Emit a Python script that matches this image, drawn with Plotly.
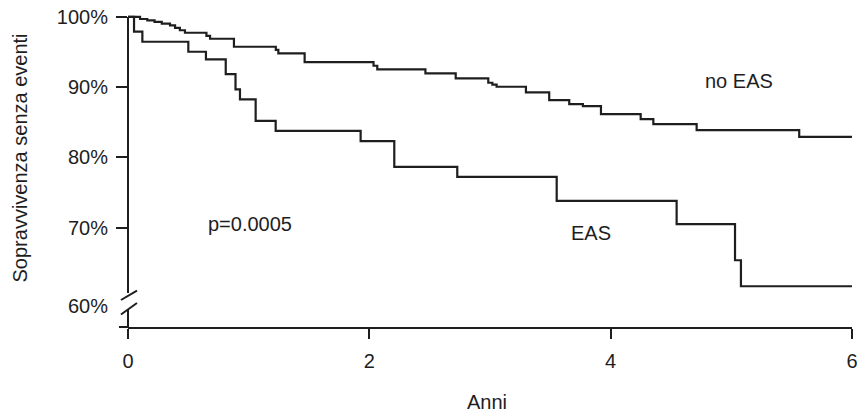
import plotly.graph_objects as go

# Kaplan-Meier curves (years, survival %)
years_no_eas = [0, 0.10, 0.16, 0.22, 0.28, 0.348, 0.39, 0.43, 0.472, 0.65, 0.68, 0.878,
                1.225, 1.246, 1.464, 2.035, 2.066, 2.465, 2.716, 2.986, 3.02, 3.055,
                3.298, 3.491, 3.657, 3.77, 3.92, 4.249, 4.354, 4.713, 5.563, 6.0]
surv_no_eas = [100, 99.7, 99.5, 99.3, 99.05, 98.8, 98.45, 98.1, 97.74, 97.3, 96.89, 95.75,
               95.3, 94.81, 93.57, 93.05, 92.53, 91.96, 91.25, 90.63, 90.35, 90.06,
               89.26, 88.16, 87.59, 87.31, 86.17, 85.46, 84.74, 83.89, 82.94, 82.94]

years_eas = [0, 0.050, 0.119, 0.500, 0.646, 0.810, 0.891, 0.928, 1.058, 1.224, 1.928,
             2.207, 2.729, 3.553, 4.547, 5.031, 5.080, 6.0]
surv_eas = [100, 97.89, 96.46, 95.04, 93.96, 91.86, 89.69, 88.26, 85.21, 83.79, 82.32,
            78.66, 77.24, 73.82, 70.51, 65.38, 61.68, 61.68]

x_ticks = [0, 2, 4, 6]
y_ticks = [70, 80, 90, 100]
y_ticktext = ["70%", "80%", "90%", "100%"]
y_break_label_pos = [58.83]
y_break_label = ["60%"]

INK = "#1e1e1e"
FONT = "Liberation Sans, Arial, sans-serif"
FS = 20
YR = [55.88, 100.98]

fig = go.Figure()
fig.add_trace(go.Scatter(x=years_no_eas, y=surv_no_eas, mode="lines", line_shape="hv",
                         line=dict(color=INK, width=2.2), name="no EAS", showlegend=False))
fig.add_trace(go.Scatter(x=years_eas, y=surv_eas, mode="lines", line_shape="hv",
                         line=dict(color=INK, width=2.2), name="EAS", showlegend=False))
fig.add_trace(go.Scatter(x=[], y=[], yaxis="y2", showlegend=False, hoverinfo="skip"))

fig.update_layout(
    width=857, height=414,
    margin=dict(l=128, r=5, t=10, b=87),
    paper_bgcolor="white", plot_bgcolor="white",
    font=dict(family=FONT, size=FS, color=INK),
    xaxis=dict(range=[0, 6.0005], tickvals=x_ticks, showline=True, linewidth=2, linecolor=INK,
               ticks="outside", ticklen=10, tickwidth=2, tickcolor=INK, automargin=False,
               ticklabeloverflow="allow",
               showgrid=False, zeroline=False, ticklabelstandoff=5),
    yaxis=dict(range=YR, tickvals=y_ticks, ticktext=y_ticktext, showline=False,
               ticks="outside", ticklen=11, tickwidth=2, tickcolor=INK, automargin=False,
               showgrid=False, zeroline=False, ticklabelstandoff=4),
    yaxis2=dict(range=YR, overlaying="y", side="left", anchor="x",
                tickvals=y_break_label_pos, ticktext=y_break_label, showline=False,
                ticks="outside", ticklen=11, tickcolor="rgba(0,0,0,0)", automargin=False,
                showgrid=False, zeroline=False, ticklabelstandoff=4),
)

# broken y axis line + break marks
line = dict(color=INK, width=2)
fig.add_shape(type="line", xref="paper", yref="y", x0=0, x1=0, y0=60.72, y1=100, line=line)
fig.add_shape(type="line", xref="paper", yref="y", x0=0, x1=0, y0=YR[0], y1=58.44, line=line)
fig.add_shape(type="line", xref="paper", yref="y", x0=-0.0097, x1=0.0124, y0=59.72, y1=61.07, line=line)
fig.add_shape(type="line", xref="paper", yref="y", x0=-0.0097, x1=0.0124, y0=57.66, y1=59.30, line=line)
# x axis line extends a little left of the y axis
fig.add_shape(type="line", xref="paper", yref="paper", x0=-0.0125, x1=0, y0=0, y1=0, line=line)

fig.add_annotation(text="Sopravvivenza senza eventi", xref="paper", yref="paper",
                   x=-0.149, y=0.532, textangle=-90, showarrow=False,
                   xanchor="center", yanchor="middle", font=dict(size=FS))
fig.add_annotation(text="Anni", xref="paper", yref="paper", x=0.4965, y=-0.236,
                   showarrow=False, xanchor="center", yanchor="middle", font=dict(size=FS))
fig.add_annotation(text="p=0.0005", x=1.011, y=70.6, showarrow=False,
                   xanchor="center", yanchor="middle")
fig.add_annotation(text="EAS", x=3.837, y=69.3, showarrow=False,
                   xanchor="center", yanchor="middle")
fig.add_annotation(text="no EAS", x=5.063, y=90.9, showarrow=False,
                   xanchor="center", yanchor="middle")

fig.write_html("out.html", config={"displayModeBar": False},
               post_script="document.body.style.margin='0px';document.body.style.overflow='hidden';")
